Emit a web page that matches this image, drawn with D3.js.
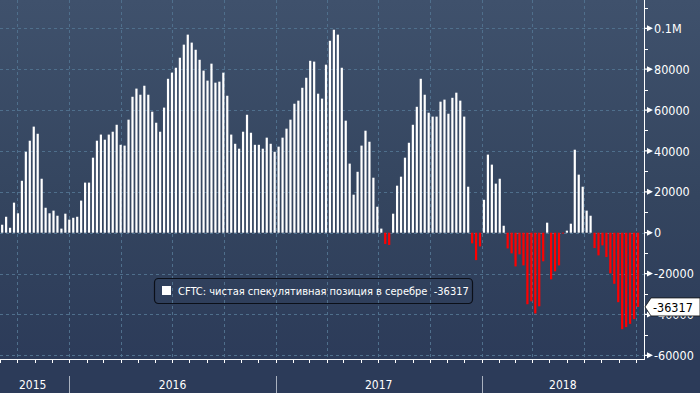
<!DOCTYPE html>
<html><head><meta charset="utf-8">
<script src="https://cdn.jsdelivr.net/npm/d3@7"></script>
<style>
html,body{margin:0;padding:0;background:#2c3b59;}
svg{display:block;}
text{font-family:"DejaVu Sans Condensed","DejaVu Sans",sans-serif;}
</style></head><body>
<svg id="c" width="700" height="393"></svg>
<script>
// Weekly CFTC net speculative position in silver (contracts), Fridays from 2015-09-04
const firstDate = Date.UTC(2015, 8, 4);
const values = [
 3900, 7800, 2400, 14700, 9500, 25400, 39600, 45000, 51900, 48400,
 26400, 12200, 9500, 10800, 8300, 2000, 9300, 6400, 7300, 7800,
 15700, 24500, 24500, 36700, 45000, 48000, 45500, 48000, 49400, 52800,
 43000, 42600, 55300, 66500, 70500, 67500, 71900, 67500, 59200, 53800,
 49400, 61200, 75300, 78300, 80700, 85600, 92000, 96900, 93000, 89500,
 84600, 79300, 74400, 82700, 73400, 73900, 78300, 67000, 48000, 43500,
 41100, 49400, 57700, 48900, 43000, 43000, 41100, 46500, 43500, 39600,
 42100, 46500, 50900, 55300, 63100, 64600, 70900, 75800, 84100, 83700,
 68000, 65600, 82200, 93900, 99300, 96900, 80700, 54800, 33800, 18600,
 29800, 42600, 49900, 44500, 26900, 12700, 2000, -5500, -6000, 9300,
 23000, 27400, 36700, 44000, 52800, 61600, 75300, 67500, 58700, 56800,
 56800, 64100, 65100, 58200, 66000, 68500, 64600, 56800, 22500, -5200,
 -13400, -6700, 16100, 38200, 33300, 24000, 26400, 3400, -7700, -10100,
 -16500, -10600, -16000, -35000, -33600, -39500, -36000, -14000, 4900, -22800,
 -18900, -16000, -400, 1000, 4400, 40600, 28400, 22500, 10800, 8300,
 -7500, -11100, -6200, -11900, -19900, -25000, -34000, -47200, -46200, -44600,
 -42300, -36317
];
const dates = values.map((v, i) => new Date(firstDate + i * 7 * 86400000));
const yTickValues = [-60000, -40000, -20000, 0, 20000, 40000, 60000, 80000, 100000];
const yTickLabels = ["-60000", "-40000", "-20000", "0", "20000", "40000", "60000", "80000", "0.1M"];
const yMinorValues = [-50000, -30000, -10000, 10000, 30000, 50000, 70000, 90000, 110000];
const years = ["2015", "2016", "2017", "2018"];
const legendText = "CFTC: чистая спекулятивная позиция в серебре\u00a0\u00a0-36317";
const lastLabel = "-36317";

const svg = d3.select("#c");
const W = 700, H = 393, plotR = 644, plotB = 359;

const defs = svg.append("defs");
const g = defs.append("linearGradient").attr("id", "bg").attr("x1", 0).attr("y1", 0).attr("x2", 0).attr("y2", 1);
g.append("stop").attr("offset", "0").attr("stop-color", "#3f516c");
g.append("stop").attr("offset", "0.5").attr("stop-color", "#34455f");
g.append("stop").attr("offset", "0.92").attr("stop-color", "#2c3b59");
g.append("stop").attr("offset", "1").attr("stop-color", "#2c3b59");
svg.append("rect").attr("width", W).attr("height", H).attr("fill", "url(#bg)");

const x = d3.scaleUtc()
  .domain([new Date(Date.UTC(2015, 7, 31, 4)), new Date(Date.UTC(2018, 9, 15, 16))])
  .range([0, plotR]);
const y = d3.scaleLinear().domain([-61790, 113845]).range([plotB, 0]);

const gridColor = "#4f6f8c";
// horizontal grid
svg.append("g").selectAll("line").data(yTickValues).join("line")
  .attr("x1", 0).attr("x2", plotR)
  .attr("y1", d => Math.round(y(d)) + 0.5).attr("y2", d => Math.round(y(d)) + 0.5)
  .attr("stroke", gridColor).attr("stroke-dasharray", "3,3");
// vertical grid (quarters)
const quarters = d3.utcMonth.every(3).range(x.domain()[0], x.domain()[1]);
svg.append("g").selectAll("line").data(quarters).join("line")
  .attr("x1", d => Math.round(x(d)) + 0.5).attr("x2", d => Math.round(x(d)) + 0.5)
  .attr("y1", 0).attr("y2", plotB)
  .attr("stroke", gridColor).attr("stroke-dasharray", "3,3");

// bars
const bw = 2.2;
svg.append("g").selectAll("rect").data(values).join("rect")
  .attr("x", (d, i) => x(dates[i]) - bw / 2)
  .attr("width", bw)
  .attr("y", d => d >= 0 ? y(d) : y(0))
  .attr("height", d => Math.abs(y(d) - y(0)))
  .attr("fill", d => d >= 0 ? "#ffffff" : "#ff0000");

// bottom axis
svg.append("line").attr("x1", 0).attr("x2", plotR + 0.5).attr("y1", plotB + 0.5).attr("y2", plotB + 0.5)
  .attr("stroke", "#fff");
const months = d3.utcMonth.every(1).range(x.domain()[0], x.domain()[1]);
svg.append("g").selectAll("line").data(months).join("line")
  .attr("x1", d => Math.round(x(d)) + 0.5).attr("x2", d => Math.round(x(d)) + 0.5)
  .attr("y1", plotB).attr("y2", plotB + 4)
  .attr("stroke", "#fff");

// right axis
svg.append("line").attr("x1", plotR + 0.5).attr("x2", plotR + 0.5).attr("y1", 0).attr("y2", plotB + 1)
  .attr("stroke", "#fff");
svg.append("g").selectAll("line").data(yMinorValues).join("line")
  .attr("x1", plotR).attr("x2", plotR + 4)
  .attr("y1", d => Math.round(y(d)) + 0.5).attr("y2", d => Math.round(y(d)) + 0.5)
  .attr("stroke", "#fff");
const yt = svg.append("g").selectAll("g").data(yTickValues).join("g")
  .attr("transform", d => `translate(0,${y(d)})`);
yt.append("path").attr("d", `M${plotR},-0.6 L${plotR + 3},-0.6 L${plotR + 3},-3 L${plotR + 9},0 L${plotR + 3},3 L${plotR + 3},0.6 L${plotR},0.6 Z`)
  .attr("fill", "#fff");
yt.append("text").attr("x", plotR + 10).attr("y", 4.6)
  .attr("fill", "#fff").attr("font-size", "12.5px")
  .text((d, i) => yTickLabels[i]);

// year labels & separators
const yearStarts = years.map(s => new Date(Date.UTC(+s, 0, 1)));
svg.append("g").selectAll("line").data(yearStarts.slice(1)).join("line")
  .attr("x1", d => Math.round(x(d)) + 0.5).attr("x2", d => Math.round(x(d)) + 0.5)
  .attr("y1", 376).attr("y2", H)
  .attr("stroke", "#a9b1bf");
svg.append("g").selectAll("text").data(years).join("text")
  .attr("x", (d, i) => {
    const a = Math.max(0, x(yearStarts[i]));
    const b = i + 1 < years.length ? x(yearStarts[i + 1]) : plotR;
    return (a + b) / 2 - (i === 0 ? 2 : 0);
  })
  .attr("y", 389).attr("text-anchor", "middle")
  .attr("fill", "#fff").attr("font-size", "12px")
  .text(d => d);

// last value label
const ly = y(values[values.length - 1]);
svg.append("path")
  .attr("d", `M${plotR + 1},${ly} L${plotR + 7},${ly - 9} L${W},${ly - 9} L${W},${ly + 9} L${plotR + 7},${ly + 9} Z`)
  .attr("fill", "#fff").attr("stroke", "#111").attr("stroke-width", 0.8);
svg.append("text").attr("x", plotR + 9).attr("y", ly + 4.6)
  .attr("fill", "#000").attr("font-size", "12.5px").text(lastLabel);

// legend
svg.append("rect").attr("x", 154.5).attr("y", 278.5).attr("width", 318).attr("height", 25).attr("rx", 4)
  .attr("fill", "none").attr("stroke", "#0b0f18").attr("stroke-width", 1.2);
svg.append("rect").attr("x", 162).attr("y", 286).attr("width", 9).attr("height", 9).attr("fill", "#fff");
svg.append("text").attr("x", 178).attr("y", 295).attr("fill", "#fff").attr("font-size", "11px")
  .text(legendText);
</script>
</body></html>
